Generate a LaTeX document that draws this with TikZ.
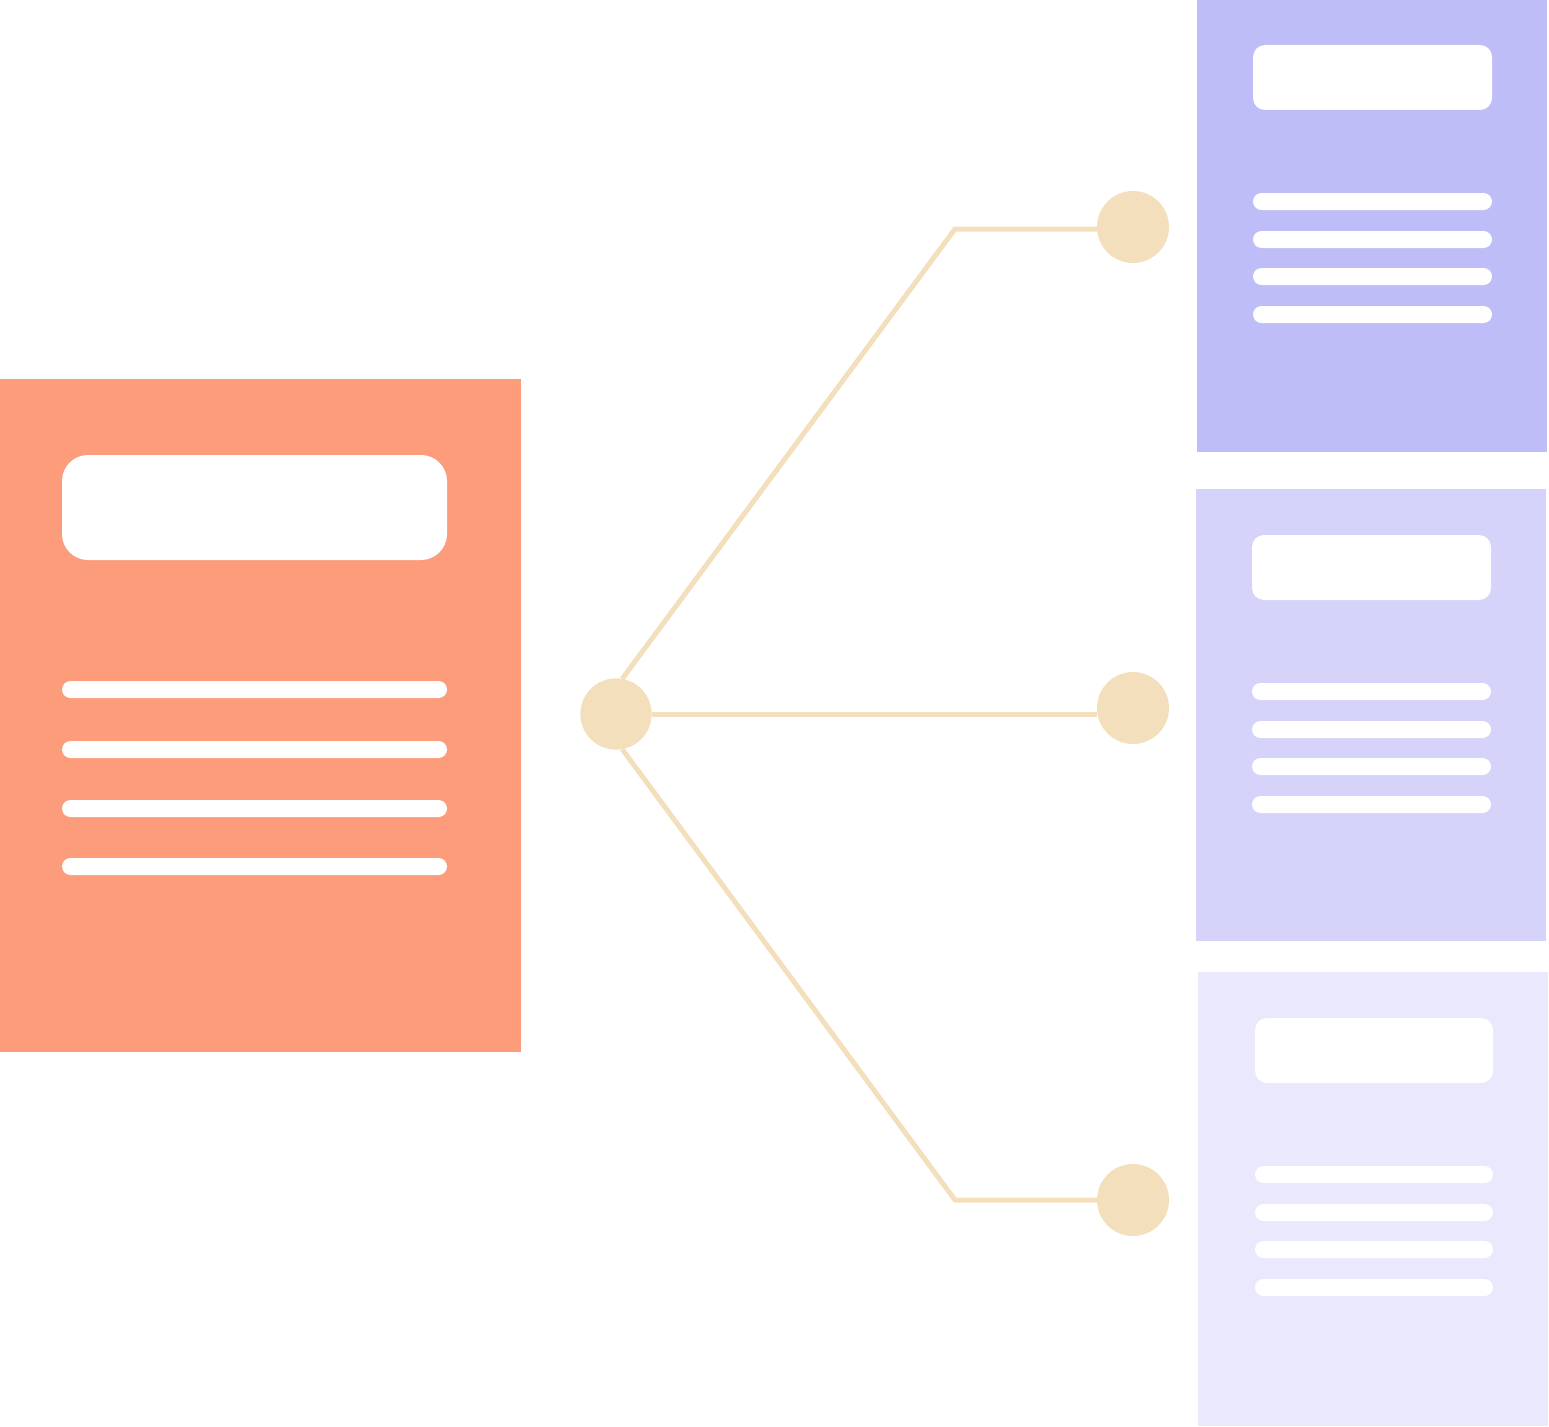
\documentclass[tikz,border=0pt]{standalone}
\usetikzlibrary{calc}
\definecolor{cardorange}{HTML}{FC9C7A}
\definecolor{carddeep}{HTML}{BFBDF8}
\definecolor{cardmid}{HTML}{D5D3FA}
\definecolor{cardpale}{HTML}{EAE8FD}
\definecolor{beige}{HTML}{F4DFBC}
\tikzset{
  titlebig/.style={fill=white, rounded corners=26pt},
  titlesmall/.style={fill=white, rounded corners=12pt},
  bar/.style={fill=white, rounded corners=8.5pt},
  dot/.style={circle, fill=beige, inner sep=0pt},
  link/.style={draw=beige, line width=5pt, line join=miter},
}
\begin{document}
\begin{tikzpicture}[x=1pt, y=-1pt]
\useasboundingbox (0,0) rectangle (1549,1426);

% source document
\fill[cardorange] (0,379) rectangle (521,1052);
\path[titlebig] (62,455) rectangle (447,560);
\foreach \y in {681,741,800,858} \path[bar] (62,\y) rectangle (447,\y+17);

% target documents
\fill[carddeep] (1197,0) rectangle (1547,452);
\path[titlesmall] (1253,45) rectangle (1492,110);
\foreach \y in {193,231,268,306} \path[bar] (1253,\y) rectangle (1492,\y+17);

\fill[cardmid] (1196,489) rectangle (1546,941);
\path[titlesmall] (1252,535) rectangle (1491,600);
\foreach \y in {683,721,758,796} \path[bar] (1252,\y) rectangle (1491,\y+17);

\fill[cardpale] (1198,972) rectangle (1548,1426);
\path[titlesmall] (1255,1018) rectangle (1493,1083);
\foreach \y in {1166,1204,1241,1279} \path[bar] (1255,\y) rectangle (1493,\y+17);

% hub and endpoints
\node[dot, minimum size=71pt] (hub) at (616,714) {};
\node[dot, minimum size=72pt] (c1) at (1133,227) {};
\node[dot, minimum size=72pt] (c2) at (1133,708) {};
\node[dot, minimum size=72pt] (c3) at (1133,1200) {};
\coordinate (k1) at (955,229);
\coordinate (k3) at (955,1200);

% connectors
\draw[link] (hub.80) -- (k1) -- (k1 -| c1.west);
\draw[link] (hub.east) -- (hub.east -| c2.west);
\draw[link] (hub.-80) -- (k3) -- (c3.west);

% redraw hub over the connector ends
\node[dot, minimum size=71pt] at (hub) {};
\end{tikzpicture}
\end{document}
